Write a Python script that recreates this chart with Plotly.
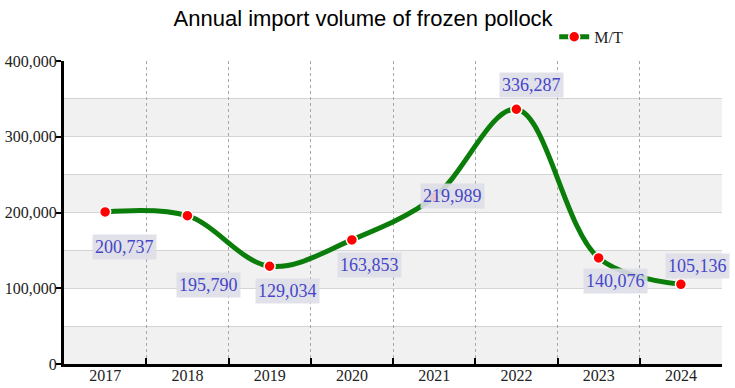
import plotly.graph_objects as go

years = ["2017", "2018", "2019", "2020", "2021", "2022", "2023", "2024"]
volumes = [200737, 195790, 129034, 163853, 219989, 336287, 140076, 105136]
y_ticks = [0, 100000, 200000, 300000, 400000]
series_name = "M/T"
title = "Annual import volume of frozen pollock"

# label offsets (pixels) relative to each point
label_dx = [19, 21, 18, 18, 18, 15, 17, 17]
label_dy = [-35, -69, -25, -25, 1, 24, -23, 18]

fig = go.Figure()

fig.add_trace(go.Scatter(
    x=years, y=volumes, name=series_name, mode="lines+markers",
    line=dict(color="#0b7d0b", width=5, shape="spline", smoothing=1.0),
    marker=dict(color="#ff0000", size=11, line=dict(color="white", width=1.5)),
))

for i, (v, dx, dy) in enumerate(zip(volumes, label_dx, label_dy)):
    fig.add_annotation(
        x=i, y=v, xref="x", yref="y", text=f"{v:,}", showarrow=False,
        xshift=dx, yshift=dy,
        font=dict(family="Liberation Serif", size=18, color="#4646c8"),
        bgcolor="rgba(222,222,232,0.9)", borderpad=2,
    )

# alternating horizontal bands
for lo in range(0, 400000, 100000):
    fig.add_shape(type="rect", xref="paper", yref="y", x0=0, x1=1,
                  y0=lo, y1=lo + 50000, fillcolor="#f1f1f1",
                  line=dict(width=0), layer="below")

fig.update_layout(
    width=735, height=388,
    margin=dict(l=64, r=13, t=61, b=24, autoexpand=False),
    paper_bgcolor="white", plot_bgcolor="white",
    title=dict(text=title, x=0.494, xanchor="center", y=0.952, yanchor="middle",
               font=dict(family="Liberation Sans", size=22, color="black")),
    showlegend=True,
    legend=dict(x=0.745, y=0.905, xref="paper", yref="container",
                xanchor="left", yanchor="middle",
                bgcolor="rgba(0,0,0,0)",
                font=dict(family="Liberation Serif", size=16, color="#222")),
    xaxis=dict(
        type="category", range=[-0.5, 7.5], tickson="boundaries",
        showgrid=True, griddash="dot", gridcolor="#a8a8a8", gridwidth=1,
        ticks="inside", ticklen=6, tickwidth=2, tickcolor="black",
        showline=True, linecolor="black", linewidth=3,
        tickfont=dict(family="Liberation Serif", size=16, color="#222"),
        ticklabelstandoff=-5,
        fixedrange=True, automargin=False,
    ),
    yaxis=dict(
        range=[0, 400000], tickvals=y_ticks, tickformat=",",
        showgrid=True, gridcolor="#d4d4d4", gridwidth=1,
        minor=dict(dtick=50000, showgrid=True, gridcolor="#d4d4d4", gridwidth=1),
        ticks="outside", ticklen=5, tickwidth=2, tickcolor="black",
        showline=True, linecolor="black", linewidth=3,
        zeroline=False,
        tickfont=dict(family="Liberation Serif", size=16, color="#222"),
        ticklabelstandoff=-4,
        fixedrange=True, automargin=False,
    ),
)

fig.write_html(
    "out.html",
    config={"displayModeBar": False},
    post_script="document.body.style.margin='0';document.body.style.padding='0';"
                "document.body.style.overflow='hidden';",
)
